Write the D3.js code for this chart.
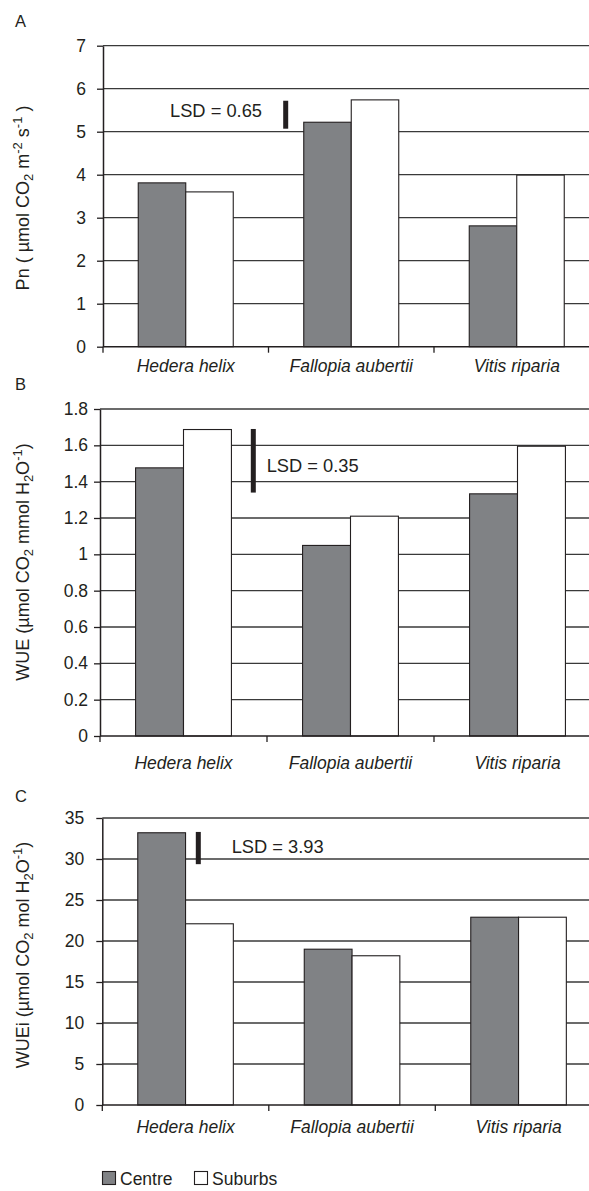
<!DOCTYPE html>
<html>
<head>
<meta charset="utf-8">
<script src="https://cdn.jsdelivr.net/npm/d3@7"></script>
<style>
  body { margin: 0; background: #fff; }
  svg { display: block; font-family: "Liberation Sans", Arial, sans-serif; }
  text { fill: #231f20; }
</style>
</head>
<body>
<svg width="589" height="1191"></svg>
<script>
let svg = d3.select("svg"),
    width = +svg.attr("width"),
    height = +svg.attr("height");

// categories and series
let species = ["Hedera helix", "Fallopia aubertii", "Vitis riparia"];
let sites = ["Centre", "Suburbs"];

// A - net photosynthesis
let pnCentre = [3.81, 5.22, 2.81];
let pnSuburbs = [3.60, 5.74, 3.99];
let pnTicks = [0, 1, 2, 3, 4, 5, 6, 7];

// B - WUE
let wueCentre = [1.476, 1.049, 1.333];
let wueSuburbs = [1.687, 1.21, 1.595];
let wueTicks = [0, 0.2, 0.4, 0.6, 0.8, 1, 1.2, 1.4, 1.6, 1.8];

// C - WUEi
let wueiCentre = [33.2, 19.0, 22.9];
let wueiSuburbs = [22.1, 18.2, 22.9];
let wueiTicks = [0, 5, 10, 15, 20, 25, 30, 35];

// least significant differences, and where the bar starts (top)
let lsdValues = [0.65, 0.35, 3.93];
let lsdTops = [5.72, 1.69, 33.3];

let centreColor = "#808285";
let lineColor = "#231f20";

//Layout of each panel (pixels)
let panels = [
    {label: "A", centre: pnCentre, suburbs: pnSuburbs, ticks: pnTicks,
     left: 103, top: 45.7, bottom: 346.7, cw: 165.5, tickPad: 11,
     labelY: 26.7, catDy: 25, titleY: 198,
     lsdX: 285.7, lsdTextX: 170, lsdTextY: 116.7, lsd: 0},
    {label: "B", centre: wueCentre, suburbs: wueSuburbs, ticks: wueTicks,
     left: 100, top: 409, bottom: 736, cw: 167, tickPad: 6,
     labelY: 390, catDy: 33, titleY: 562,
     lsdX: 253.3, lsdTextX: 266.7, lsdTextY: 471.7, lsd: 1},
    {label: "C", centre: wueiCentre, suburbs: wueiSuburbs, ticks: wueiTicks,
     left: 102.3, top: 818, bottom: 1105, cw: 166.5, tickPad: 12,
     labelY: 801.7, catDy: 28, titleY: 955,
     lsdX: 198.3, lsdTextX: 231.7, lsdTextY: 852.7, lsd: 2}
];

//Axis titles with sub/superscripts: [text, kind]
let titles = [
    [["Pn ( µmol CO", ""], ["2", "sub"], [" m", ""], ["-2", "sup"], [" s", ""], ["-1", "sup"], [" )", ""]],
    [["WUE (µmol CO", ""], ["2", "sub"], [" mmol H", ""], ["2", "sub"], ["O", ""], ["-1", "sup"], [")", ""]],
    [["WUEi (µmol CO", ""], ["2", "sub"], [" mol H", ""], ["2", "sub"], ["O", ""], ["-1", "sup"], [")", ""]]
];

function drawPanel(p, i){
    let g = svg.append("g").attr("class", "panel");
    let maxV = p.ticks[p.ticks.length - 1];

    let y = d3.scaleLinear()
        .domain([0, maxV])
        .range([p.bottom, p.top]);

    let x0 = d3.scaleBand()
        .domain(species)
        .range([p.left, p.left + 3 * p.cw]);

    let x1 = d3.scaleBand()
        .domain(sites)
        .range([p.cw * 0.213, p.cw * 0.787]);

    //gridlines (behind bars)
    g.append("g")
        .selectAll("line")
        .data(p.ticks.filter(t => t > 0)).enter().append("line")
            .attr("x1", p.left)
            .attr("x2", width)
            .attr("y1", d => y(d))
            .attr("y2", d => y(d))
            .attr("stroke", "#3a3a3a")
            .attr("stroke-width", 1.3);

    //bars
    let rows = species.map((s, j) => ({species: s, values: [
        {site: "Centre", v: p.centre[j]},
        {site: "Suburbs", v: p.suburbs[j]}
    ]}));

    g.append("g")
        .selectAll("g")
        .data(rows).enter().append("g")
            .attr("transform", d => "translate(" + x0(d.species) + ",0)")
        .selectAll("rect")
        .data(d => d.values).enter().append("rect")
            .attr("x", d => x1(d.site))
            .attr("width", x1.bandwidth())
            .attr("y", d => y(d.v))
            .attr("height", d => y(0) - y(d.v))
            .attr("fill", d => d.site === "Centre" ? centreColor : "#fff")
            .attr("stroke", lineColor)
            .attr("stroke-width", 1.1);

    //left axis
    let axis = g.append("g")
        .attr("transform", "translate(" + p.left + ",0)")
        .call(d3.axisLeft(y)
            .tickValues(p.ticks)
            .tickFormat(d3.format("~g"))
            .tickSize(6)
            .tickPadding(p.tickPad)
            .tickSizeOuter(0));
    axis.select(".domain").attr("stroke", lineColor).attr("stroke-width", 1.5);
    axis.selectAll(".tick line").attr("stroke", lineColor).attr("stroke-width", 1.3);
    axis.selectAll(".tick text")
        .attr("font-size", 17.5)
        .attr("font-family", "Liberation Sans, Arial, sans-serif")
        .attr("fill", lineColor);

    //bottom axis line with ticks at category boundaries
    g.append("line")
        .attr("x1", p.left)
        .attr("x2", width)
        .attr("y1", y(0))
        .attr("y2", y(0))
        .attr("stroke", lineColor)
        .attr("stroke-width", 1.5);

    let bounds = species.map(s => x0(s));
    g.append("g")
        .selectAll("line")
        .data(bounds).enter().append("line")
            .attr("x1", d => d)
            .attr("x2", d => d)
            .attr("y1", y(0))
            .attr("y2", y(0) + 6)
            .attr("stroke", lineColor)
            .attr("stroke-width", 1.3);

    g.append("g")
        .selectAll("text")
        .data(species).enter().append("text")
            .attr("x", d => x0(d) + x0.bandwidth() / 2)
            .attr("y", y(0) + p.catDy)
            .attr("text-anchor", "middle")
            .attr("font-size", 17.5)
            .attr("font-style", "italic")
            .text(d => d);

    //panel letter
    g.append("text")
        .attr("x", 15)
        .attr("y", p.labelY)
        .attr("font-size", 16.5)
        .text(p.label);

    //axis title
    let title = g.append("text")
        .attr("transform", "translate(29," + p.titleY + ") rotate(-90)")
        .attr("text-anchor", "middle")
        .attr("font-size", 18);
    let shift = 0;
    titles[i].forEach(part => {
        let t = title.append("tspan").text(part[0]);
        let target = part[1] === "sub" ? 4 : part[1] === "sup" ? -7 : 0;
        t.attr("dy", target - shift);
        if (part[1] !== "") t.attr("font-size", 13);
        shift = target;
    });

    //LSD bar and label
    let lsdTop = lsdTops[p.lsd];
    g.append("rect")
        .attr("x", p.lsdX - 2.5)
        .attr("width", 5)
        .attr("y", y(lsdTop))
        .attr("height", y(lsdTop - lsdValues[p.lsd]) - y(lsdTop))
        .attr("fill", lineColor);

    g.append("text")
        .attr("x", p.lsdTextX)
        .attr("y", p.lsdTextY)
        .attr("font-size", 18.3)
        .text("LSD = " + lsdValues[p.lsd].toFixed(2));
}

panels.forEach(drawPanel);

//legend
let legend = svg.append("g").attr("class", "legend")
    .attr("transform", "translate(102,1171)");
let legendX = [0, 92];
sites.forEach((s, k) => {
    legend.append("rect")
        .attr("x", legendX[k] + 0.5)
        .attr("y", 0.5)
        .attr("width", 13)
        .attr("height", 13)
        .attr("fill", s === "Centre" ? centreColor : "#fff")
        .attr("stroke", lineColor)
        .attr("stroke-width", 1.1);
    legend.append("text")
        .attr("x", legendX[k] + 18)
        .attr("y", 13.5)
        .attr("font-size", 17.5)
        .text(s);
});
</script>
</body>
</html>
